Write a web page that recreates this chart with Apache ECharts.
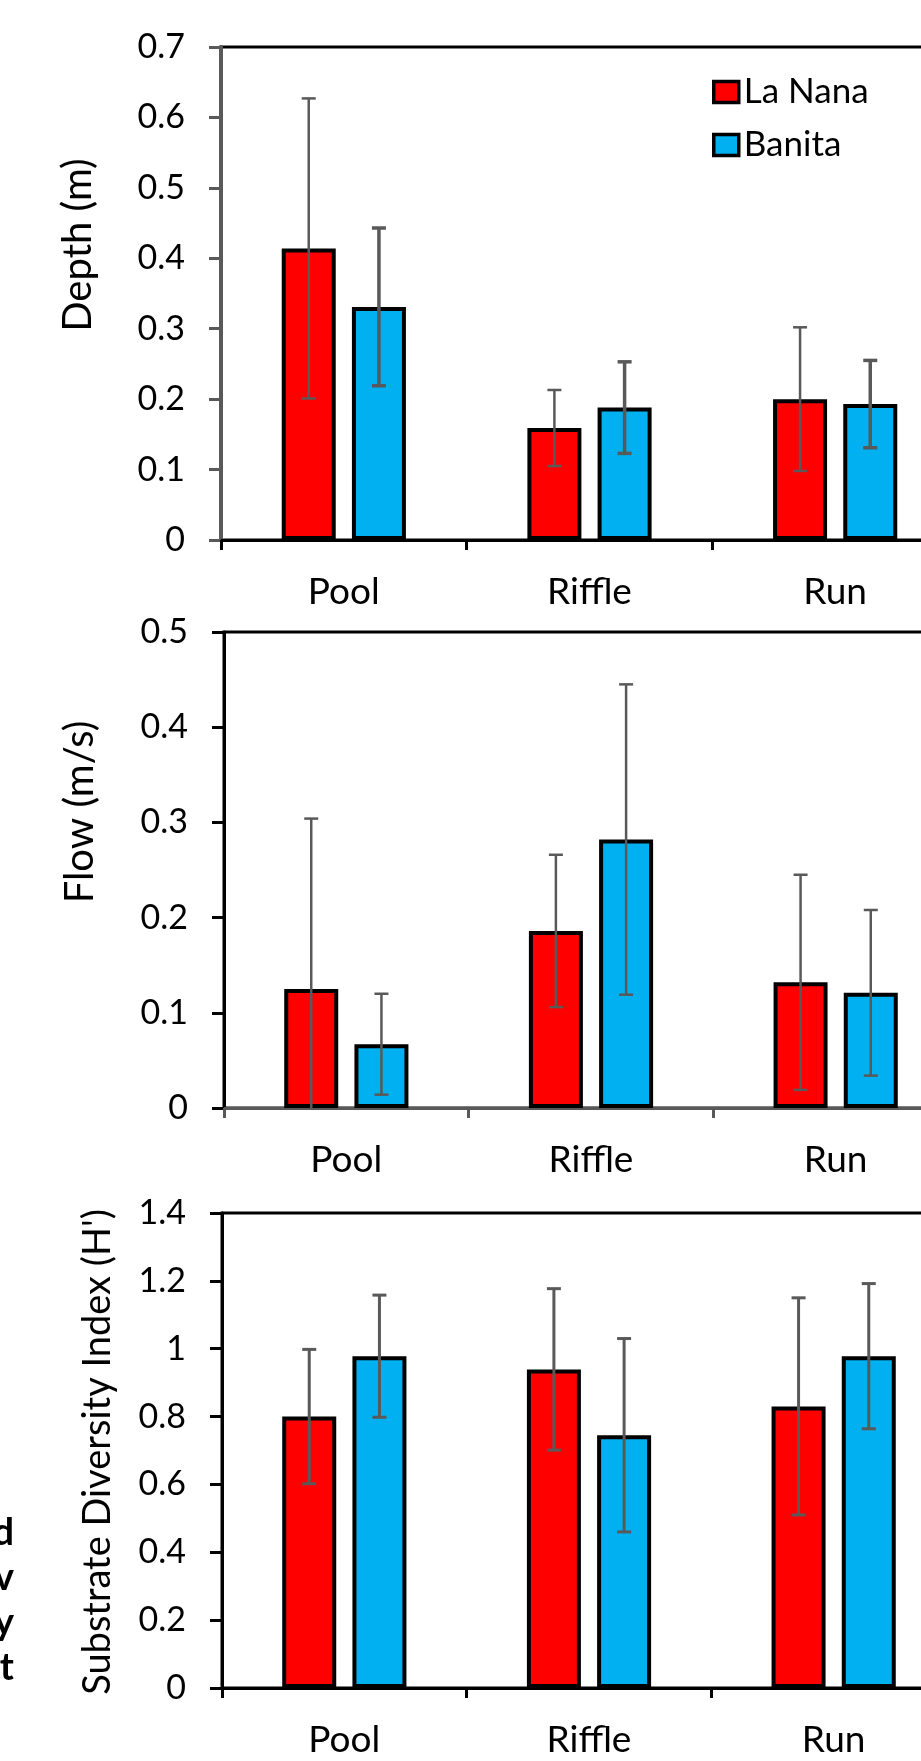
<!DOCTYPE html>
<html>
<head>
<meta charset="utf-8">
<script src="https://cdn.jsdelivr.net/npm/echarts@6/dist/echarts.min.js"></script>
<style>
    html, body { margin: 0; padding: 0; background: #fff; }
    #chart { width: 921px; height: 1761px; }
</style>
</head>
<body>
<div id="chart"></div>
<script>
    // categories shared by the three panels
    const categories = ['Pool', 'Riffle', 'Run'];
    const seriesNames = ['La Nana', 'Banita'];

    // depth (m), mean and error
    const depthLaNana = [0.414, 0.159, 0.200];
    const depthLaNanaErr = [0.213, 0.054, 0.102];
    const depthBanita = [0.331, 0.188, 0.193];
    const depthBanitaErr = [0.112, 0.065, 0.062];

    // flow (m/s)
    const flowLaNana = [0.125, 0.186, 0.132];
    const flowLaNanaErr = [0.179, 0.080, 0.113];
    const flowBanita = [0.067, 0.282, 0.121];
    const flowBanitaErr = [0.053, 0.163, 0.087];

    // substrate diversity index (H')
    const subLaNana = [0.800, 0.939, 0.830];
    const subLaNanaErr = [0.198, 0.238, 0.320];
    const subBanita = [0.978, 0.745, 0.978];
    const subBanitaErr = [0.180, 0.285, 0.214];

    // axis ranges (min, max, interval)
    const depthTicks = [0, 0.7, 0.1];
    const flowTicks = [0, 0.5, 0.1];
    const subTicks = [0, 1.4, 0.2];

    const RED = '#ff0000';
    const BLUE = '#00b0f0';
    const ERR = '#595959';
    const FONT = 'Lato';
    const barW = 54;
    const barGapPct = 0.3;
    const barOffset = (barW + barW * barGapPct) / 2;

    let chart = echarts.init(document.getElementById('chart'));

    function errorRenderer(sign, lw) {
        return (params, api) => {
            let x = api.coord([api.value(0), 0])[0] + sign * barOffset;
            let hi = api.coord([api.value(0), api.value(1) + api.value(2)])[1];
            let lo = api.coord([api.value(0), api.value(1) - api.value(2)])[1];
            let cap = 7;
            let style = { stroke: ERR, lineWidth: lw };
            return {
                type: 'group',
                children: [
                    { type: 'line', shape: { x1: x, y1: hi, x2: x, y2: lo }, style: style },
                    { type: 'line', shape: { x1: x - cap, y1: hi, x2: x + cap, y2: hi }, style: style },
                    { type: 'line', shape: { x1: x - cap, y1: lo, x2: x + cap, y2: lo }, style: style }
                ]
            };
        };
    }

    function toErrData(vals, errs) {
        let res = [];
        for (let i = 0; i < vals.length; i++) {
            res.push([i, vals[i], errs[i]]);
        }
        return res;
    }

    function makeAxes(idx, ticks, leftColor, leftWidth, bottomColor) {
        let x = {
            type: 'category',
            gridIndex: idx,
            data: categories,
            axisLine: { lineStyle: { color: bottomColor, width: 3 } },
            axisTick: { show: true, length: 10, lineStyle: { color: bottomColor, width: 3 } },
            axisLabel: { color: '#000', fontSize: 37, fontFamily: FONT, margin: 34 }
        };
        let y = {
            type: 'value',
            gridIndex: idx,
            min: ticks[0],
            max: ticks[1],
            interval: ticks[2],
            splitLine: { show: false },
            axisLine: { show: true, lineStyle: { color: leftColor, width: leftWidth } },
            axisTick: { show: true, length: 12, lineStyle: { color: leftColor, width: 3 } },
            axisLabel: { color: '#000', fontSize: 34, fontFamily: FONT, margin: 36 }
        };
        return [x, y];
    }

    function makeSeries(idx, red, redErr, blue, blueErr, redLw, blueLw) {
        let barStyle = (c) => ({ color: c, borderColor: '#000', borderWidth: 4 });
        return [
            { name: seriesNames[0], type: 'bar', xAxisIndex: idx, yAxisIndex: idx, data: red,
              barWidth: barW, barGap: (barGapPct * 100) + '%', itemStyle: barStyle(RED) },
            { name: seriesNames[1], type: 'bar', xAxisIndex: idx, yAxisIndex: idx, data: blue,
              barWidth: barW, barGap: (barGapPct * 100) + '%', itemStyle: barStyle(BLUE) },
            { type: 'custom', xAxisIndex: idx, yAxisIndex: idx, z: 10, clip: true,
              renderItem: errorRenderer(-1, redLw), data: toErrData(red, redErr) },
            { type: 'custom', xAxisIndex: idx, yAxisIndex: idx, z: 10, clip: true,
              renderItem: errorRenderer(1, blueLw), data: toErrData(blue, blueErr) }
        ];
    }

    let a1 = makeAxes(0, depthTicks, ERR, 4, '#000');
    let a2 = makeAxes(1, flowTicks, '#000', 3, ERR);
    let a3 = makeAxes(2, subTicks, '#000', 3, '#000');

    let titleStyle = (txt, x, y, size) => ({
        type: 'text', x: x, y: y, rotation: Math.PI / 2,
        style: { text: txt, fill: '#000', font: size + 'px ' + FONT, textAlign: 'center', textVerticalAlign: 'middle' }
    });
    let edgeStyle = (txt, y) => ({
        type: 'text', x: 14, y: y,
        style: { text: txt, fill: '#000', font: 'bold 38px ' + FONT, textAlign: 'right', textVerticalAlign: 'middle' }
    });

    let gridBase = { show: true, borderColor: '#000', borderWidth: 3, outerBoundsMode: 'none', containLabel: false };

    let option = {
        animation: false,
        backgroundColor: '#fff',
        grid: [
            Object.assign({ left: 221, top: 47, width: 737, height: 493 }, gridBase),
            Object.assign({ left: 224, top: 632, width: 734, height: 476 }, gridBase),
            Object.assign({ left: 222, top: 1213, width: 734, height: 475 }, gridBase)
        ],
        legend: {
            data: seriesNames,
            orient: 'vertical',
            left: 712,
            top: 72,
            padding: 0,
            icon: 'rect',
            itemWidth: 25,
            itemHeight: 21,
            itemGap: 13,
            itemStyle: { borderColor: '#000', borderWidth: 3.5 },
            textStyle: { color: '#000', fontSize: 35, fontFamily: FONT, lineHeight: 40 }
        },
        xAxis: [a1[0], a2[0], a3[0]],
        yAxis: [a1[1], a2[1], a3[1]],
        series: [].concat(
            makeSeries(0, depthLaNana, depthLaNanaErr, depthBanita, depthBanitaErr, 2.5, 3.5),
            makeSeries(1, flowLaNana, flowLaNanaErr, flowBanita, flowBanitaErr, 2.5, 2.5),
            makeSeries(2, subLaNana, subLaNanaErr, subBanita, subBanitaErr, 3, 3)
        ),
        graphic: [
            titleStyle('Depth (m)', 78, 245, 40),
            titleStyle('Flow (m/s)', 80, 812, 40),
            titleStyle('Substrate Diversity Index (H\')', 98, 1452, 38),
            edgeStyle('d', 1533),
            edgeStyle('v', 1578),
            edgeStyle('y', 1623),
            edgeStyle('t', 1668)
        ]
    };

    chart.setOption(option);
</script>
</body>
</html>
